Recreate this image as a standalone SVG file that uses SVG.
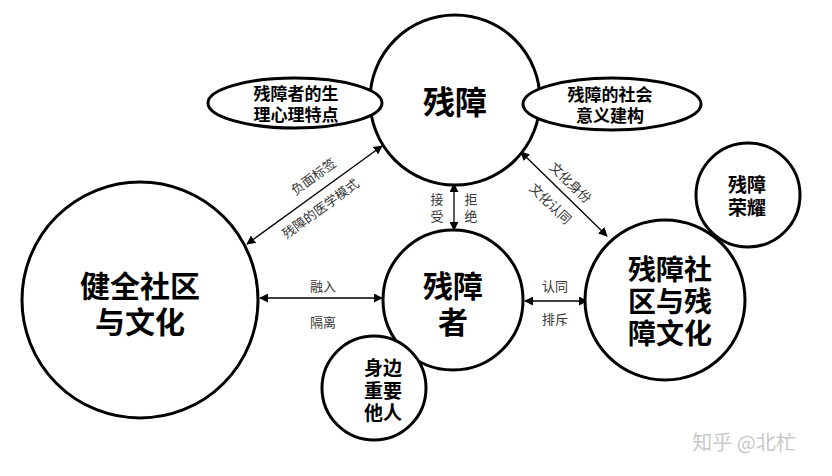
<svg xmlns="http://www.w3.org/2000/svg" width="832" height="476" viewBox="0 0 832 476">
<style>
.c{fill:#fff;stroke:#000;stroke-width:3}
.e{fill:#fff;stroke:#000;stroke-width:3}
.t{font-family:"Noto Sans CJK SC","Noto Sans",sans-serif;font-weight:bold;fill:#000;text-anchor:middle;dominant-baseline:central}
.l{font-family:"Noto Sans CJK SC","Noto Sans",sans-serif;font-size:13px;fill:#333;text-anchor:middle;dominant-baseline:central}
.a{stroke:#000;stroke-width:1.3;fill:none;marker-start:url(#ah);marker-end:url(#ah)}
</style>
<defs>
<marker id="ah" viewBox="0 0 10 10" refX="9" refY="5" markerWidth="9" markerHeight="9" markerUnits="userSpaceOnUse" orient="auto-start-reverse">
<path d="M0,0 L10,5 L0,10 z" fill="#000"/>
</marker>
</defs>
<rect width="832" height="476" fill="#fff"/>
<g id="connectors">
<line class="a" x1="382" y1="146" x2="247" y2="244"/>
<line class="a" x1="521" y1="152" x2="607" y2="236"/>
<line class="a" x1="454" y1="184" x2="454" y2="230"/>
<line class="a" x1="260" y1="298" x2="382" y2="298"/>
<line class="a" x1="525" y1="301" x2="587" y2="301"/>
<text class="l" transform="translate(313,176) rotate(-36)">负面标签</text>
<text class="l" transform="translate(320,208) rotate(-36)">残障的医学模式</text>
<text class="l" transform="translate(571,182) rotate(44)">文化身份</text>
<text class="l" transform="translate(551,203) rotate(44)">文化认同</text>
<text class="l" x="437" y="198">接</text>
<text class="l" x="437" y="215">受</text>
<text class="l" x="471" y="198">拒</text>
<text class="l" x="471" y="215">绝</text>
<text class="l" x="323" y="285">融入</text>
<text class="l" x="323" y="321">隔离</text>
<text class="l" x="555" y="285">认同</text>
<text class="l" x="555" y="318">排斥</text>
</g>
<g id="n-disability">
<circle class="c" cx="455" cy="100" r="85"/>
<text class="t" x="455" y="100" font-size="32">残障</text>
</g>
<g id="n-traits">
<ellipse class="e" cx="295" cy="103" rx="87" ry="25"/>
<text class="t" x="296" y="92" font-size="17">残障者的生</text>
<text class="t" x="296" y="113" font-size="17">理心理特点</text>
</g>
<g id="n-construct">
<ellipse class="e" cx="612" cy="104" rx="89" ry="26"/>
<text class="t" x="610" y="93" font-size="17">残障的社会</text>
<text class="t" x="610" y="114" font-size="17">意义建构</text>
</g>
<g id="n-mainstream">
<circle class="c" cx="140" cy="300" r="118"/>
<text class="t" x="140" y="284" font-size="30">健全社区</text>
<text class="t" x="140" y="320" font-size="30">与文化</text>
</g>
<g id="n-person">
<circle class="c" cx="453" cy="300" r="70"/>
<text class="t" x="453" y="284" font-size="30">残障</text>
<text class="t" x="453" y="320" font-size="30">者</text>
</g>
<g id="n-others">
<circle class="c" cx="374" cy="388" r="52"/>
<text class="t" x="383" y="366" font-size="19">身边</text>
<text class="t" x="383" y="389" font-size="19">重要</text>
<text class="t" x="383" y="411" font-size="19">他人</text>
</g>
<g id="n-culture">
<circle class="c" cx="665" cy="300" r="80"/>
<text class="t" x="670" y="268" font-size="28">残障社</text>
<text class="t" x="670" y="300" font-size="28">区与残</text>
<text class="t" x="670" y="332" font-size="28">障文化</text>
</g>
<g id="n-pride">
<circle class="c" cx="748" cy="195" r="52"/>
<text class="t" x="747" y="183" font-size="19">残障</text>
<text class="t" x="747" y="206" font-size="19">荣耀</text>
</g>
<text x="744" y="441" font-family="Noto Sans CJK SC,sans-serif" font-size="20" fill="#c8c8c8" text-anchor="middle" dominant-baseline="central">知乎 @北杧</text>
</svg>
